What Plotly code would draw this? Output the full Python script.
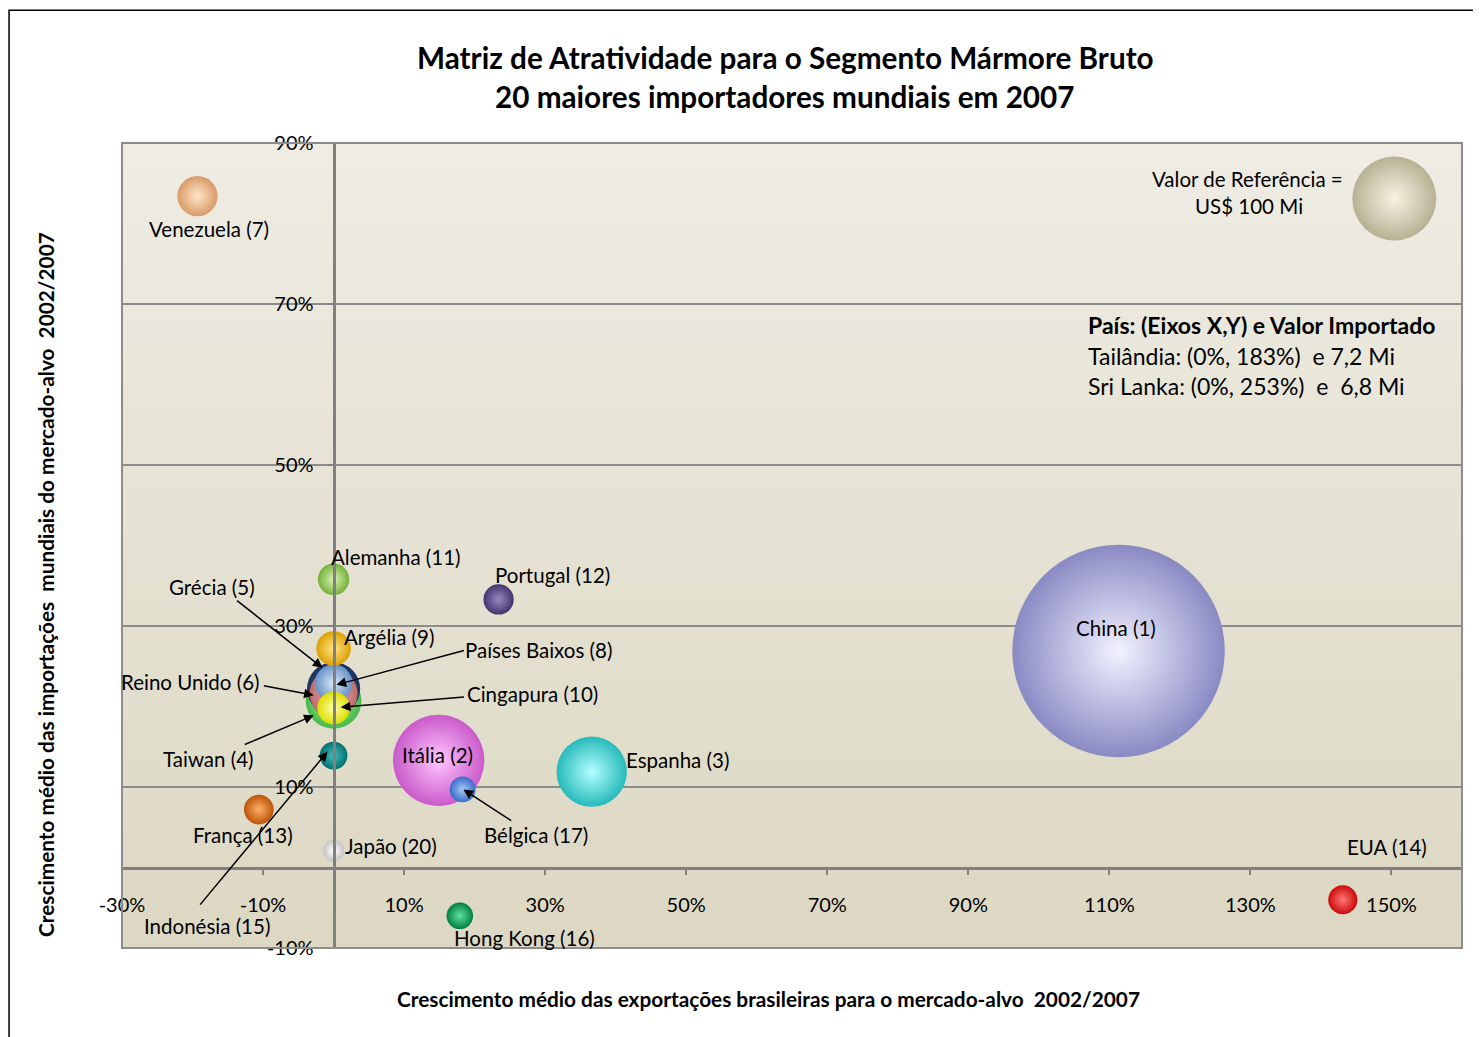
import numpy as np
import plotly.graph_objects as go

# ---------------- data ----------------
countries = ["China", "Itália", "Espanha", "Taiwan", "Grécia", "Reino Unido", "Venezuela",
             "Países Baixos", "Argélia", "Cingapura", "Alemanha", "Portugal", "França", "EUA",
             "Indonésia", "Hong Kong", "Bélgica", "Japão"]
ranks = [1, 2, 3, 4, 5, 6, 7, 8, 9, 10, 11, 12, 13, 14, 15, 16, 17, 20]
export_growth = [111.3, 14.9, 36.6, 0, 0, 0, -19.3, 0, 0, 0, 0, 23.4, -10.6, 143.1, 0, 17.9, 18.3, 0]
import_growth = [26.9, 13.3, 11.9, 20.7, 22.2, 21.6, 83.4, 22.9, 27.2, 19.8, 35.8, 33.3, 7.2, -4.0, 13.9, -6.0, 9.7, 2.1]
import_value = [640, 118, 70, 44, 40, 33, 23, 20, 17, 15, 14, 13, 12.5, 12, 11, 10, 9.5, 6.5]

ref_x = [150.4]
ref_y = [83.1]
ref_value = [100]

x_ticks = [-30, -10, 10, 30, 50, 70, 90, 110, 130, 150]
y_ticks = [-10, 10, 30, 50, 70, 90]

# ---------------- style ----------------
outer_colors = ["#8A8AC4", "#CA5ACA", "#26BABA", "#48B848", "#1C325E", "#BC6A6A", "#D89A68",
                "#6890C4", "#DCA000", "#DEDE00", "#74B03A", "#45356E", "#BC5406", "#CC0A0A",
                "#007070", "#00803F", "#3A6AC8", "#C4C4C4"]
inner_colors = ["#F2F2FF", "#FFC6FF", "#B4FFFF", "#A4F8A4", "#36588F", "#F6B0B0", "#FFE6C8",
                "#D8E8FA", "#FFE688", "#FFFFA8", "#DCF5B6", "#9888C4", "#FFB06A", "#FF7878",
                "#48BCBC", "#60E29E", "#A6CAF6", "#FFFFFF"]

FONT = "Lato"
sizeref = 2 * 100 / (84 ** 2)  # 100 Mi -> 84 px bubble

fig = go.Figure()

fig.add_trace(go.Scatter(
    x=export_growth, y=import_growth, mode="markers",
    text=[f"{c} ({r})" for c, r in zip(countries, ranks)],
    hoverinfo="text",
    marker=dict(size=import_value, sizemode="area", sizeref=sizeref,
                color=outer_colors,
                gradient=dict(type="radial", color=inner_colors),
                line=dict(width=0), opacity=1),
    showlegend=False, cliponaxis=False))

fig.add_trace(go.Scatter(
    x=ref_x, y=ref_y, mode="markers", hoverinfo="skip",
    marker=dict(size=ref_value, sizemode="area", sizeref=sizeref,
                color="#A09872", gradient=dict(type="radial", color="#FAF7E4"),
                line=dict(width=0)),
    showlegend=False))

# background gradient of the plot area
shapes = []
n = 60
top = np.array([239, 237, 228])
bot = np.array([220, 216, 195])
for i in range(n):
    t = (i + 0.5) / n
    c = top * (1 - t) + bot * t
    shapes.append(dict(type="rect", xref="x domain", yref="y domain",
                       x0=0, x1=1, y0=1 - (i + 1) / n, y1=1 - i / n + 0.002,
                       fillcolor=f"rgb({int(c[0])},{int(c[1])},{int(c[2])})",
                       line=dict(width=0), layer="below"))
shapes.append(dict(type="rect", xref="x domain", yref="y domain", x0=0, x1=1, y0=0, y1=1,
                   line=dict(color="#8C8C8C", width=2), layer="above"))
# outer chart border
shapes.append(dict(type="rect", xref="paper", yref="paper", x0=-0.0843, x1=1.03, y0=-0.13, y1=1.165,
                   line=dict(color="#000000", width=1.5), layer="above"))

ann = []
lbl = dict(font=dict(family=FONT, size=20.5, color="black"), showarrow=False, xref="x", yref="y",
           xanchor="center", yanchor="middle")
labels = [
    ("Venezuela (7)", -17.7, 79.3), ("Alemanha (11)", 8.8, 38.6), ("Portugal (12)", 31.1, 36.3),
    ("Argélia (9)", 7.8, 28.6), ("China (1)", 110.9, 29.7), ("Itália (2)", 14.8, 14.0),
    ("Espanha (3)", 48.7, 13.3), ("Japão (20)", 8.1, 2.7), ("França (13)", -12.9, 4.0),
    ("Hong Kong (16)", 27.1, -8.8), ("EUA (14)", 149.4, 2.5),
    ("Grécia (5)", -17.2, 34.8), ("Reino Unido (6)", -20.3, 23.1), ("Taiwan (4)", -17.7, 13.5),
    ("Países Baixos (8)", 29.1, 27.0), ("Cingapura (10)", 28.2, 21.6),
    ("Indonésia (15)", -18.0, -7.3), ("Bélgica (17)", 28.7, 4.0),
]
for t, x, y in labels:
    ann.append(dict(text=t, x=x, y=y, **lbl))

arrows = [
    (-13.9, 33.3, -1.56, 24.8), (-10.1, 22.6, -2.8, 21.4), (-12.8, 15.2, -2.8, 18.9),
    (18.7, 27.0, 0.4, 22.7), (18.7, 21.2, 1.0, 19.9), (-19.1, -4.8, -0.85, 14.4),
    (25.4, 5.7, 18.4, 9.7),
]
for ax, ay, x, y in arrows:
    ann.append(dict(text="", x=x, y=y, ax=ax, ay=ay, xref="x", yref="y", axref="x", ayref="y",
                    showarrow=True, arrowhead=2, arrowsize=1.3, arrowwidth=1.5, arrowcolor="black",
                    standoff=0, startstandoff=0))

def px2paper(px, py):
    return (px - 122) / 1340, (948 - py) / 805

def paper_text(txt, px, py, size, bold=False, xanchor="center", angle=0):
    x, y = px2paper(px, py)
    return dict(text=f"<b>{txt}</b>" if bold else txt, x=x, y=y, xref="paper", yref="paper",
                showarrow=False, xanchor=xanchor, yanchor="middle", textangle=angle,
                font=dict(family=FONT, size=size, color="black"))

# titles
ann.append(paper_text("Matriz de Atratividade para o Segmento Mármore Bruto", 785, 58, 29.7, True))
ann.append(paper_text("20 maiores importadores mundiais em 2007", 785, 97, 29.7, True))
ann.append(paper_text("Crescimento médio das exportações brasileiras para o mercado-alvo  2002/2007",
                      768, 999, 20.8, True))
ann.append(paper_text("Crescimento médio das importações  mundiais do mercado-alvo  2002/2007",
                      45, 585, 20.8, True, angle=-90))
ann.append(paper_text("Valor de Referência =", 1247, 179, 20.5))
ann.append(paper_text("US$ 100 Mi", 1249, 206, 20.5))
ann.append(paper_text("País: (Eixos X,Y) e Valor Importado", 1086, 325, 23, True, xanchor="left"))
ann.append(paper_text("Tailândia: (0%, 183%)  e 7,2 Mi", 1086, 356, 23, xanchor="left"))
ann.append(paper_text("Sri Lanka: (0%, 253%)  e  6,8 Mi", 1086, 386, 23, xanchor="left"))

fig.update_layout(
    width=1473, height=1029,
    margin=dict(l=114, r=19, t=135, b=89),
    paper_bgcolor="white", plot_bgcolor="rgba(0,0,0,0)",
    shapes=shapes, annotations=ann,
    xaxis=dict(range=[-30, 160], tickvals=x_ticks, ticktext=[f"{v}%" for v in x_ticks],
               showgrid=False, zeroline=False, showline=True, linecolor="#808080", linewidth=3,
               anchor="free", position=0.1, ticks="outside", ticklen=5, tickwidth=2,
               tickcolor="#808080", ticklabelstandoff=13, domain=[0, 1],
               tickfont=dict(family=FONT, size=20, color="black")),
    yaxis=dict(range=[-10, 90], tickvals=y_ticks, ticktext=[f"{v}%" for v in y_ticks],
               showgrid=True, gridcolor="#8C8C8C", gridwidth=1.5, zeroline=False,
               showline=True, linecolor="#808080", linewidth=3,
               anchor="free", position=30 / 190, ticks="outside", ticklen=5, tickwidth=2,
               tickcolor="#808080", ticklabelstandoff=10, domain=[0, 1],
               tickfont=dict(family=FONT, size=20, color="black")),
)

fig.write_html("out.html")
